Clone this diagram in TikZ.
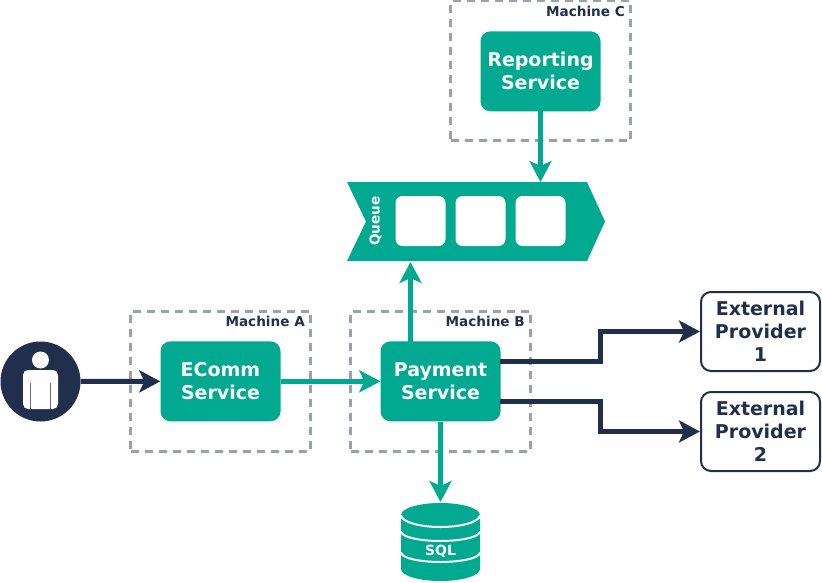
\documentclass[tikz,border=0pt]{standalone}
\usepackage{fontspec}
\setmainfont{DejaVu Sans}
\usetikzlibrary{arrows.meta}
\definecolor{tealfill}{HTML}{00A98F}
\definecolor{navyline}{HTML}{212F4D}
\definecolor{greydash}{HTML}{9AA0AE}
\tikzset{
  service/.style={draw=none,fill=tealfill,rounded corners=10pt,minimum width=120pt,minimum height=80pt,inner sep=0pt,text=white,align=center,font=\fontsize{19}{23}\selectfont\bfseries},
  provider/.style={draw=navyline,line width=2pt,fill=white,rounded corners=10pt,minimum width=119pt,minimum height=79pt,inner sep=0pt,text=navyline,align=center,font=\fontsize{19}{23}\selectfont\bfseries},
  machine/.style={draw=greydash,line width=3pt,dash pattern=on 8pt off 6pt,minimum width=180pt,minimum height=140pt,inner sep=0pt},
  machinelabel/.style={anchor=east,inner sep=0pt,text=navyline,font=\fontsize{13.6}{16}\selectfont\bfseries},
  slot/.style={fill=white,draw=none,rounded corners=7pt,minimum width=50pt,minimum height=50pt,inner sep=0pt},
  teallink/.style={draw=tealfill,line width=5pt,-{Stealth[length=21pt,width=22pt,inset=5pt]}},
  navylink/.style={draw=navyline,line width=5pt,-{Stealth[length=21pt,width=22pt,inset=5pt]}}
}
\begin{document}
\begin{tikzpicture}[x=1pt,y=-1pt]
  \useasboundingbox (0, 0) rectangle (822, 583);

  % machines
  \node[machine] (machineA) at (220.5, 381) {};
  \node[machine] (machineB) at (440.5, 381) {};
  \node[machine] (machineC) at (540.5, 71) {};
  \node[machinelabel] (labelA) at (305, 321) {Machine A};
  \node[machinelabel] (labelB) at (525, 321) {Machine B};
  \node[machinelabel] (labelC) at (625, 11) {Machine C};

  % services
  \node[service] (ecomm) at (220.5, 381.3) {EComm\\Service};
  \node[service] (payment) at (440.5, 381.3) {Payment\\Service};
  \node[service] (reporting) at (540.5, 71.3) {Reporting\\Service};
  \node[provider] (providerA) at (760.5, 331.5) {External\\Provider\\1};
  \node[provider] (providerB) at (760.5, 431.5) {External\\Provider\\2};

  % queue
  \fill[tealfill] (347, 182) -- (587, 182) -- (605, 221.5) -- (587, 261) -- (347, 261) -- (366, 221.5) -- cycle;
  \node[slot] (slotA) at (420.5, 221) {};
  \node[slot] (slotB) at (480.5, 221) {};
  \node[slot] (slotC) at (540.5, 221) {};
  \node[rotate=90,inner sep=0pt,text=white,font=\fontsize{13.6}{16}\selectfont\bfseries] (queue) at (375.5, 221) {Queue};
  \coordinate (queueTop) at (540.5, 182);
  \coordinate (queueBottom) at (410.5, 262);

  % user
  \node[circle,fill=navyline,minimum size=80pt,inner sep=0pt] (user) at (40.5, 381.5) {};
  \fill[white] (40.5, 360) circle (8.5);
  \fill[white, rounded corners=5pt] (23, 409) -- (23, 370) -- (58, 370) -- (58, 409) -- cycle;
  \draw[navyline!70, line width=0.7pt] (30.5, 383) -- (30.5, 409);
  \draw[navyline!70, line width=0.7pt] (50.8, 383) -- (50.8, 409);

  % database
  \fill[tealfill] (401, 515) -- (480, 515) -- (480, 569) arc[start angle=0, end angle=180, x radius=39.5, y radius=12] -- cycle;
  \fill[tealfill] (440.5, 515) ellipse[x radius=39.5, y radius=12];
  \draw[white, line width=2pt] (401, 515) arc[start angle=180, end angle=0, x radius=39.5, y radius=12];
  \draw[white, line width=2pt] (401, 531.5) arc[start angle=180, end angle=0, x radius=39.5, y radius=9.5];
  \draw[white, line width=2pt] (401, 552.5) arc[start angle=180, end angle=0, x radius=39.5, y radius=9.5];
  \node[inner sep=0pt,text=white,font=\fontsize{14}{16}\selectfont\bfseries] (sql) at (440.5, 551) {SQL};
  \coordinate (sqlTop) at (440.5, 502);

  % connectors
  \coordinate (payTop) at (410.5, 342);
  \coordinate (payRightA) at (500, 361);
  \coordinate (payRightB) at (500, 401);
  \coordinate (bendA) at (600.5, 361);
  \coordinate (bendB) at (600.5, 401);
  \draw[navylink] (user) -- (ecomm);
  \draw[teallink] (ecomm) -- (payment);
  \draw[teallink] (payTop) -- (queueBottom);
  \draw[teallink] (reporting) -- (queueTop);
  \draw[teallink] (payment) -- (sqlTop);
  \draw[navylink] (payRightA) -- (bendA) |- (providerA);
  \draw[navylink] (payRightB) -- (bendB) |- (providerB);
\end{tikzpicture}
\end{document}
